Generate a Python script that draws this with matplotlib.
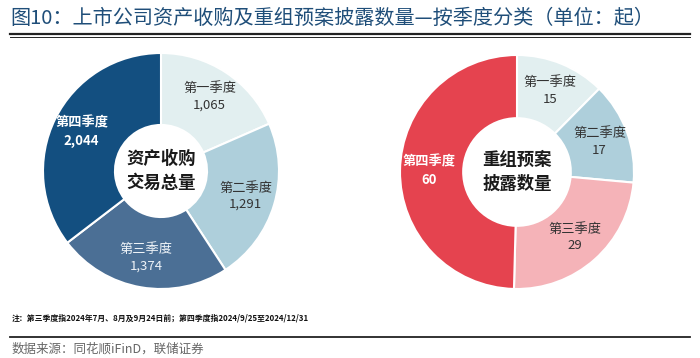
import matplotlib
matplotlib.use("Agg")
import matplotlib.pyplot as plt
import numpy as np
from matplotlib.lines import Line2D

plt.rcParams['font.family'] = ['Noto Sans CJK SC', 'DejaVu Sans']

quarters = ['第一季度', '第二季度', '第三季度', '第四季度']
deals = [1065, 1291, 1374, 2044]
plans = [15, 17, 29, 60]
deal_center = '资产收购\n交易总量'
plan_center = '重组预案\n披露数量'

title = '图10：上市公司资产收购及重组预案披露数量—按季度分类（单位：起）'
note = '注：第三季度指2024年7月、8月及9月24日前；第四季度指2024/9/25至2024/12/31'
source = '数据来源：同花顺iFinD，联储证券'

W, H = 700, 358
fig = plt.figure(figsize=(W / 100, H / 100), dpi=100)


def donut(cx, cy, R, hole, values, colors, txtcolors, weights, center_text):
    half = 125
    ax = fig.add_axes([(cx - half) / W, (H - cy - half) / H, 2 * half / W, 2 * half / H])
    lim = half / R
    ax.set_aspect('equal')
    ax.axis('off')
    ax.pie(values, colors=colors, startangle=90, counterclock=False, radius=1,
           wedgeprops=dict(width=1 - hole, edgecolor='white', linewidth=1.5))
    total = sum(values)
    cum = 0
    for v, q, tc, fw in zip(values, quarters, txtcolors, weights):
        mid = 90 - 360 * (cum + v / 2) / total
        cum += v
        rr = 0.75
        x, y = rr * np.cos(np.radians(mid)), rr * np.sin(np.radians(mid))
        ax.text(x, y, f'{q}\n{v:,}', ha='center', va='center', fontsize=9.5,
                color=tc, fontweight=fw, linespacing=1.35)
    ax.text(0, 0, center_text, ha='center', va='center', fontsize=12.5,
            fontweight='bold', color='#1a1a1a', linespacing=1.45)
    ax.set_xlim(-lim, lim)
    ax.set_ylim(-lim, lim)


donut(161, 171, 118, 0.39, deals,
      ['#e2eff0', '#aecfdb', '#4b6f95', '#134f80'],
      ['#333333', '#333333', '#eef3f8', 'white'],
      ['normal', 'normal', 'normal', 'bold'], deal_center)
donut(517, 172, 117, 0.46, plans,
      ['#e2eff0', '#aecfdb', '#f5b3b8', '#e5434f'],
      ['#333333', '#333333', '#333333', 'white'],
      ['normal', 'normal', 'normal', 'bold'], plan_center)

# title
fig.text(10 / W, 1 - 18 / H, title, ha='left', va='center', fontsize=14.5,
         color='#1f4e79', fontweight='medium')
fig.add_artist(Line2D([10 / W, 690 / W], [1 - 34 / H, 1 - 34 / H], color='#222222', lw=1.6))
fig.add_artist(Line2D([10 / W, 690 / W], [1 - 36.5 / H, 1 - 36.5 / H], color='#222222', lw=0.7))

# note
fig.text(12 / W, 1 - 318 / H, note, ha='left', va='center', fontsize=5.7, color='#111111',
         fontweight='bold')
fig.add_artist(Line2D([10 / W, 690 / W], [1 - 337 / H, 1 - 337 / H], color='#222222', lw=1.3))
fig.text(12 / W, 1 - 349 / H, source, ha='left', va='center', fontsize=9, color='#666666')

fig.savefig('out.png', dpi=100)
